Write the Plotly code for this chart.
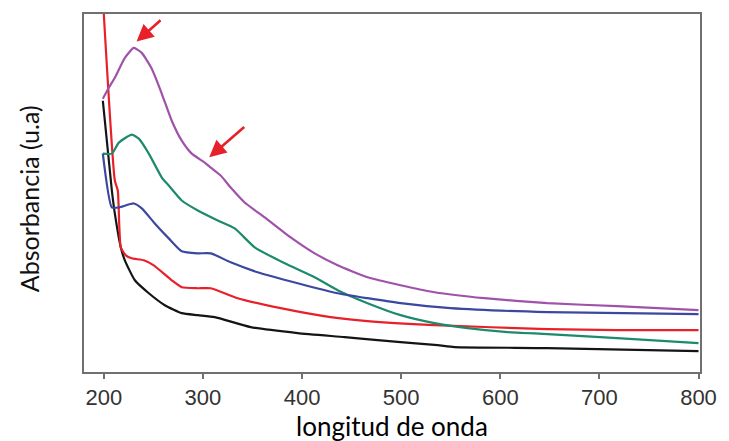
import plotly.graph_objects as go

# ---- data (wavelength nm, absorbance a.u.) ----
x_black = [199, 208.1, 211.1, 217.1, 221.2, 231.3, 245.4, 261.5, 278.6, 294.8, 311.9, 348.2, 395.6, 443, 476.2, 499.4, 536.7, 553.8, 647.6, 800]
y_black = [1.36, 0.91, 0.795, 0.625, 0.56, 0.46, 0.395, 0.335, 0.295, 0.285, 0.275, 0.225, 0.195, 0.175, 0.16, 0.15, 0.135, 0.125, 0.12, 0.105]

x_red = [199, 211.1, 214.1, 217.1, 222.2, 228.2, 240.3, 250.4, 268.5, 278.6, 294.8, 307.9, 335, 378.4, 428.8, 466, 533.7, 647.6, 718, 800]
y_red = [1.88, 0.96, 0.91, 0.625, 0.585, 0.57, 0.56, 0.535, 0.46, 0.425, 0.42, 0.42, 0.37, 0.32, 0.275, 0.255, 0.235, 0.215, 0.21, 0.21]

x_blue = [199, 208.1, 215.1, 230.2, 238.3, 251.4, 265.5, 278.6, 294.8, 307.9, 328, 355.2, 395.6, 435.9, 466.1, 499.4, 549.8, 647.6, 800]
y_blue = [1.095, 0.825, 0.825, 0.845, 0.82, 0.745, 0.67, 0.605, 0.595, 0.595, 0.55, 0.50, 0.445, 0.395, 0.37, 0.345, 0.32, 0.30, 0.29]

x_green = [199, 208.1, 215.1, 228.2, 235.3, 245.4, 258.5, 265.5, 278.6, 294.8, 314.9, 332.1, 352.2, 382.5, 412.7, 435.9, 466.1, 499.4, 533.7, 567, 607.3, 647.6, 718, 800]
y_green = [1.095, 1.095, 1.15, 1.19, 1.17, 1.095, 0.975, 0.935, 0.86, 0.81, 0.76, 0.72, 0.625, 0.545, 0.475, 0.41, 0.345, 0.285, 0.245, 0.22, 0.20, 0.19, 0.17, 0.145]

x_purple = [199, 205, 211.1, 221.2, 230.2, 238.3, 248.4, 258.5, 268.5, 278.6, 288.7, 301.8, 307.9, 317.9, 328, 342.1, 362.3, 388.5, 412.7, 435.9, 466.1, 499.4, 533.7, 584.1, 647.6, 718, 800]
y_purple = [1.37, 1.425, 1.475, 1.575, 1.625, 1.60, 1.52, 1.395, 1.26, 1.16, 1.095, 1.05, 1.025, 0.985, 0.925, 0.85, 0.775, 0.675, 0.595, 0.535, 0.475, 0.435, 0.40, 0.37, 0.345, 0.33, 0.31]

x_ticks = [200, 300, 400, 500, 600, 700, 800]

# arrow tips (data coords)
arrow_x = [231.5, 304.8]
arrow_y = [1.65, 1.07]

series = [
    (x_black, y_black, "#141414"),
    (x_red, y_red, "#e8202a"),
    (x_green, y_green, "#1d8a6c"),
    (x_blue, y_blue, "#3b48a0"),
    (x_purple, y_purple, "#a052aa"),
]

fig = go.Figure()
for xs, ys, col in series:
    fig.add_trace(go.Scatter(x=xs, y=ys, mode="lines",
                             line=dict(color=col, width=2.2, shape="spline", smoothing=0.5),
                             showlegend=False, hoverinfo="skip"))

for ax_, ay_, (tx, ty) in zip([27, 38], [-24, -33], zip(arrow_x, arrow_y)):
    fig.add_annotation(x=tx, y=ty, xref="x", yref="y", ax=ax_, ay=ay_, text="",
                       showarrow=True, arrowhead=2, arrowsize=1.3, arrowwidth=2.6,
                       arrowcolor="#e8202a", standoff=2)

fig.add_annotation(text="longitud de onda", xref="paper", yref="paper",
                   x=0.5, y=-0.152, xanchor="center", yanchor="middle", showarrow=False,
                   font=dict(family="Lato", size=26, color="#000000"))
fig.add_annotation(text="Absorbancia (u.a)", xref="paper", yref="paper",
                   x=-0.088, y=0.485, xanchor="center", yanchor="middle", showarrow=False,
                   textangle=-90, font=dict(family="Lato", size=25, color="#111111"))

fig.update_layout(
    width=729, height=441,
    margin=dict(l=84, r=27, t=13, b=69),
    paper_bgcolor="white", plot_bgcolor="white",
    xaxis=dict(range=[180, 801.5], tickvals=x_ticks, showgrid=False, zeroline=False,
               showline=True, mirror=True, linecolor="#707070", linewidth=2,
               ticks="outside", ticklen=5, tickwidth=1.5, tickcolor="#707070",
               ticklabelstandoff=0,
               tickfont=dict(family="Liberation Sans, Arial", size=22, color="#333333")),
    yaxis=dict(range=[0, 1.795], showgrid=False, zeroline=False, showticklabels=False,
               showline=True, mirror=True, linecolor="#707070", linewidth=2, ticks=""),
)

fig.write_html("out.html")
